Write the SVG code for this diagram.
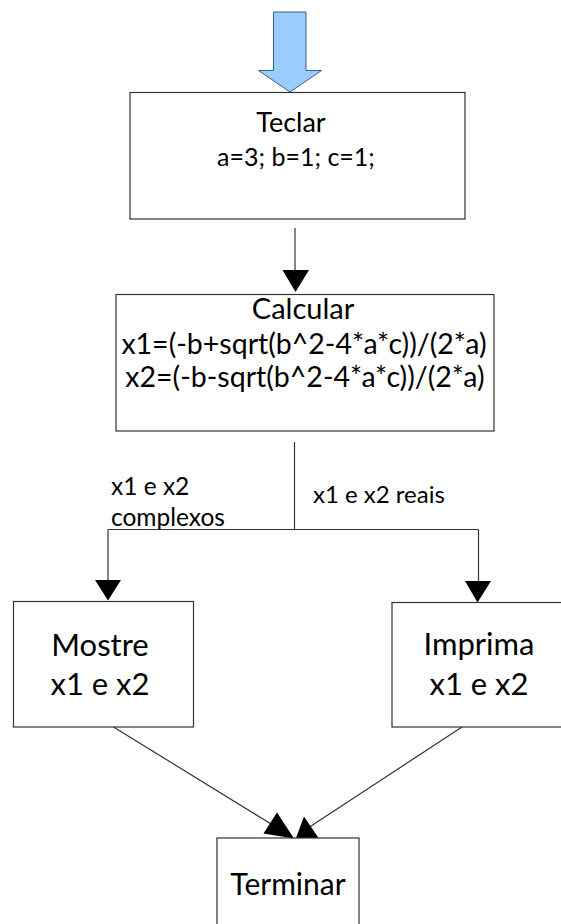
<svg xmlns="http://www.w3.org/2000/svg" width="561" height="924" viewBox="0 0 561 924">
<style>
.box{fill:#fff;stroke:#333;stroke-width:1.2}
.ln{fill:none;stroke:#333;stroke-width:1.2}
.head{fill:#000;stroke:none}
text{font-family:Lato,"Liberation Sans",sans-serif;fill:#000}
.c{text-anchor:middle}
</style>
<rect width="561" height="924" fill="#fff"/>
<g id="start">
<path d="M273.5,12 H306 V70.5 H321.5 L290,92 L258.5,70.5 H273.5 Z" fill="#99ccff" stroke="#3d5f82" stroke-width="1"/>
</g>
<g id="connectors">
<path class="ln" d="M295,228 V272"/>
<path class="head" d="M282.5,270 H309 L295.5,292 Z"/>
<path class="ln" d="M294.5,442 V529.5 M108,529.5 H478.5 M108,529.5 V582 M478.5,529.5 V583"/>
<path class="head" d="M95,580 H121 L108,600.5 Z"/>
<path class="head" d="M465,581 H491 L477.5,602.5 Z"/>
<path class="ln" d="M113.5,727 L276,827 M462,727 L308,828"/>
<path class="head" d="M263.5,833.5 L277,812.5 L294,838.5 Z"/>
<path class="head" d="M296,838 L304,816.5 L318.5,838 Z"/>
</g>
<g id="teclar">
<rect class="box" x="130" y="92.5" width="335" height="126.5"/>
<text class="c" x="291" y="132" font-size="27">Teclar</text>
<text class="c" x="296" y="166" font-size="25">a=3; b=1; c=1;</text>
</g>
<g id="calcular">
<rect class="box" x="116" y="294.5" width="378" height="136.5"/>
<text class="c" x="303" y="318.5" font-size="29">Calcular</text>
<text class="c" x="304" y="354" font-size="28.5">x1=(-b+sqrt(b^2-4*a*c))/(2*a)</text>
<text class="c" x="305" y="387" font-size="28.5">x2=(-b-sqrt(b^2-4*a*c))/(2*a)</text>
</g>
<g id="labels">
<text x="111" y="495" font-size="24.5">x1 e x2</text>
<text x="111" y="525.5" font-size="24.5">complexos</text>
<text x="313" y="503" font-size="24">x1 e x2 reais</text>
</g>
<g id="mostre">
<rect class="box" x="13.5" y="601.5" width="180" height="125.5"/>
<text class="c" x="100" y="656" font-size="31">Mostre</text>
<text class="c" x="100" y="695" font-size="31">x1 e x2</text>
</g>
<g id="imprima">
<rect class="box" x="392" y="602.5" width="200" height="124.5"/>
<text class="c" x="479" y="655" font-size="31">Imprima</text>
<text class="c" x="479" y="695" font-size="31">x1 e x2</text>
</g>
<g id="terminar">
<rect class="box" x="217" y="838" width="142" height="100"/>
<text class="c" x="288" y="895" font-size="30">Terminar</text>
</g>
</svg>
